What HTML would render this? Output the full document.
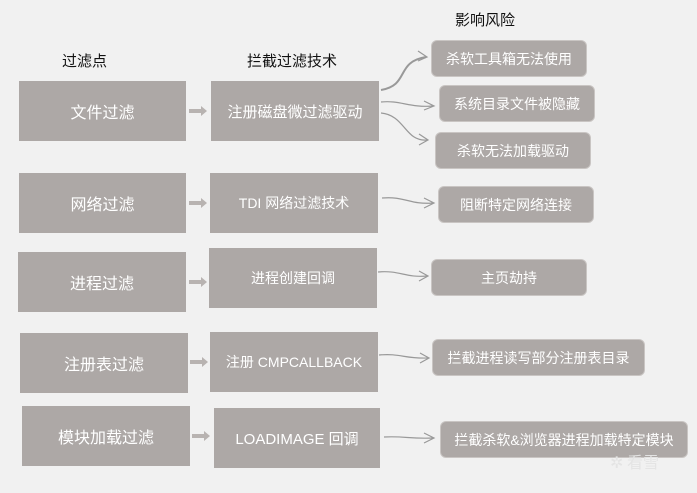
<!DOCTYPE html>
<html><head><meta charset="utf-8"><style>
body{margin:0;width:697px;height:493px;background:#f1f1f1;position:relative;overflow:hidden;font-family:"Liberation Sans","Noto Sans CJK SC",sans-serif}
.b{position:absolute;background:#ada8a6;color:#fff;display:flex;align-items:center;justify-content:center;font-size:16px}
.c{font-size:15px}
.m{font-size:14px}
.p{position:absolute;background:#ada8a6;color:#fff;display:flex;align-items:center;justify-content:center;font-size:14px;border-radius:6px;border:1px solid #c9c5c3;box-sizing:border-box}
.h{position:absolute;font-size:15px;color:#111}
svg{position:absolute;left:0;top:0}
</style></head><body>
<div class="h" style="left:62px;top:50px">过滤点</div>
<div class="h" style="left:247px;top:50px">拦截过滤技术</div>
<div class="h" style="left:455px;top:9px">影响风险</div>

<div class="b" style="left:19px;top:81px;width:167px;height:60px">文件过滤</div>
<div class="b" style="left:19px;top:173px;width:167px;height:60px">网络过滤</div>
<div class="b" style="left:18px;top:252px;width:168px;height:60px">进程过滤</div>
<div class="b" style="left:20px;top:333px;width:168px;height:60px">注册表过滤</div>
<div class="b" style="left:22px;top:406px;width:168px;height:60px">模块加载过滤</div>

<div class="b c" style="left:211px;top:81px;width:168px;height:60px">注册磁盘微过滤驱动</div>
<div class="b m" style="left:210px;top:173px;width:168px;height:60px">TDI 网络过滤技术</div>
<div class="b m" style="left:209px;top:248px;width:168px;height:60px">进程创建回调</div>
<div class="b m" style="left:210px;top:332px;width:168px;height:60px">注册 CMPCALLBACK</div>
<div class="b c" style="left:214px;top:408px;width:166px;height:60px">LOADIMAGE 回调</div>

<div class="p" style="left:431px;top:40px;width:156px;height:37px">杀软工具箱无法使用</div>
<div class="p" style="left:439px;top:85px;width:156px;height:37px">系统目录文件被隐藏</div>
<div class="p" style="left:435px;top:132px;width:156px;height:37px">杀软无法加载驱动</div>
<div class="p" style="left:438px;top:186px;width:156px;height:37px">阻断特定网络连接</div>
<div class="p" style="left:431px;top:259px;width:156px;height:37px">主页劫持</div>
<div class="p" style="left:432px;top:339px;width:213px;height:37px">拦截进程读写部分注册表目录</div>
<div class="p" style="left:440px;top:421px;width:248px;height:37px">拦截杀软&amp;浏览器进程加载特定模块</div>

<svg width="697" height="493">
<g fill="#b8b3b1">
<polygon points="189,109 201,109 201,106 207,111 201,116 201,113 189,113"/>
<polygon points="189,201 201,201 201,198 207,203 201,208 201,205 189,205"/>
<polygon points="189,280 201,280 201,277 207,282 201,287 201,284 189,284"/>
<polygon points="190,360 202,360 202,357 208,362 202,367 202,364 190,364"/>
<polygon points="192,434 204,434 204,431 210,436 204,441 204,438 192,438"/>
</g>
<g fill="none" stroke="#999" stroke-width="1.2">
<path d="M381,90 C410,85 395,62 426,57" stroke-width="2"/><path d="M418,51 L427,57 L418,61"/>
<path d="M381,102 C400,100 410,108 433,106"/><path d="M424,101 L434,106 L424,110"/>
<path d="M381,113 C405,115 405,142 427,140"/><path d="M419,134 L428,140 L419,145"/>
<path d="M382,198 C405,196 410,205 433,203"/><path d="M424,198 L434,203 L424,208"/>
<path d="M378,272 C400,270 405,278 427,276"/><path d="M419,271 L428,276 L419,281"/>
<path d="M379,355 C400,353 405,359 428,358"/><path d="M420,353 L429,358 L420,363"/>
<path d="M384,437 C405,436 410,439 433,438"/><path d="M424,433 L434,438 L424,443"/>
</g>
</svg>
<div style="position:absolute;left:610px;top:449px;color:#e4e4e4;font-size:16px;font-family:'Noto Sans CJK SC',sans-serif">✲ 看雪</div>
</body></html>
